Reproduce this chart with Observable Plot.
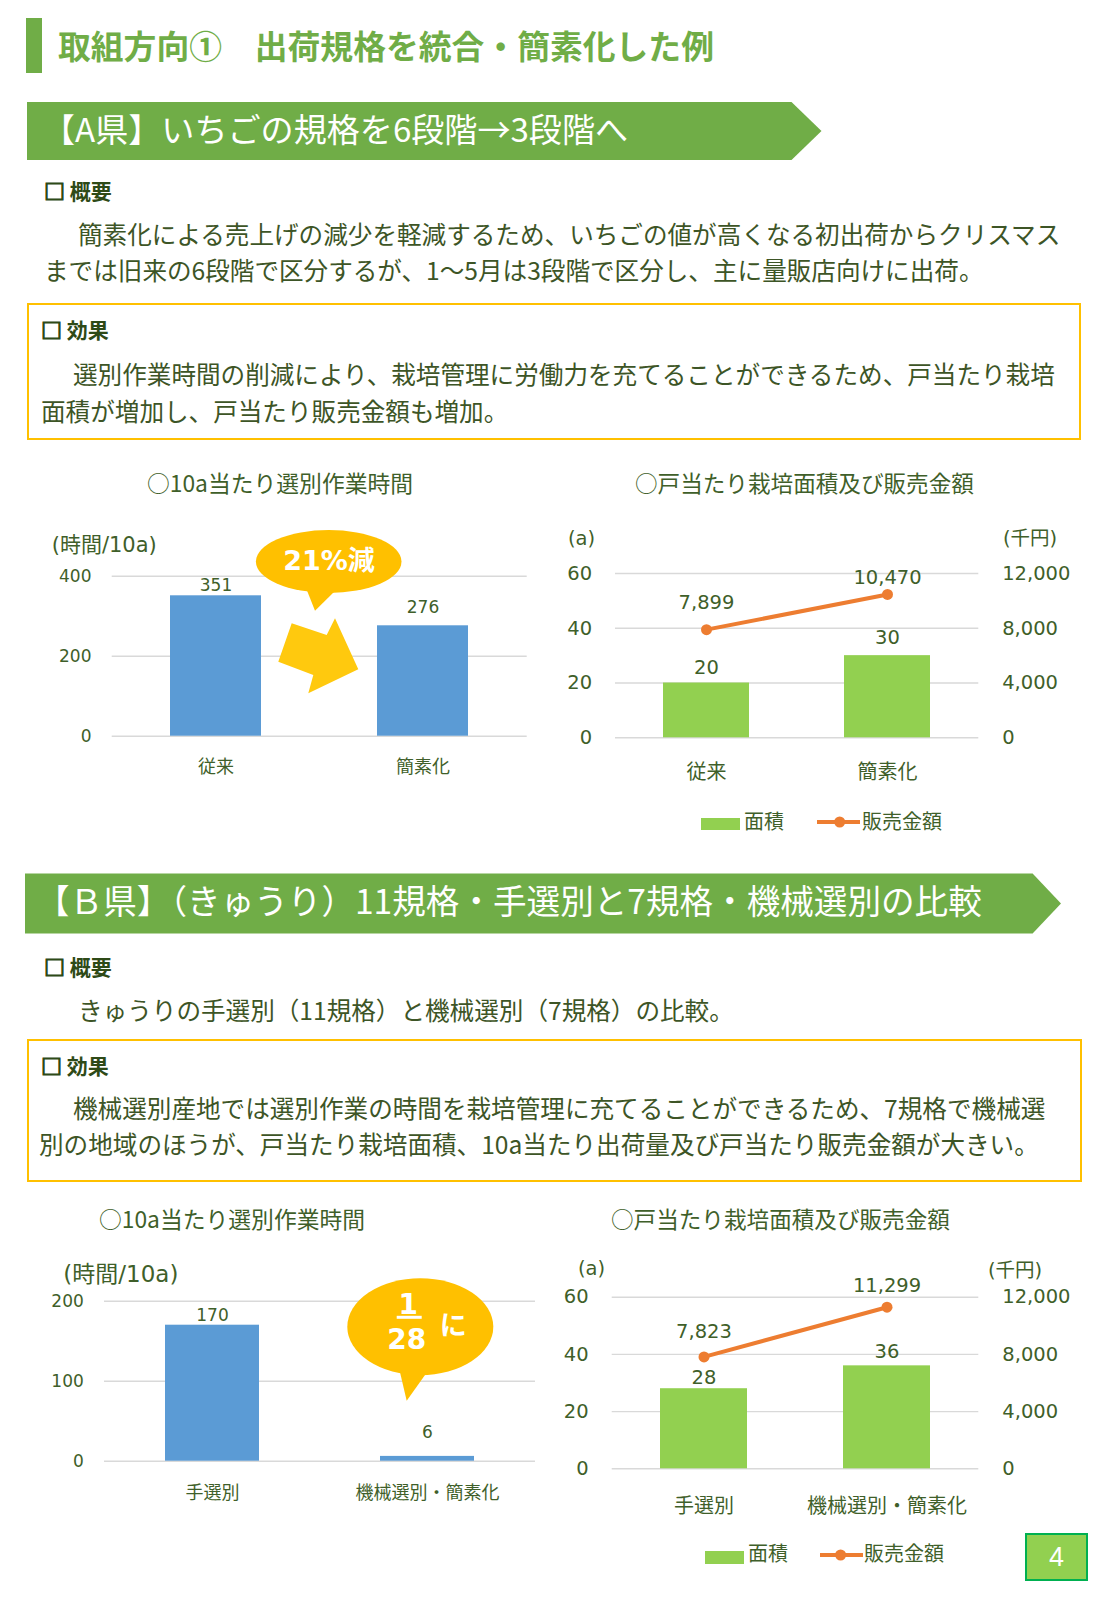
<!DOCTYPE html>
<html lang="ja">
<head>
<meta charset="utf-8">
<script src="https://cdn.jsdelivr.net/npm/d3@7"></script>
<script src="https://cdn.jsdelivr.net/npm/@observablehq/plot@0.6"></script>
<style>
  html, body { margin: 0; padding: 0; background: #fff; }
  #page { position: relative; width: 1107px; height: 1600px; overflow: hidden; background: #fff;
          font-family: "Noto Sans CJK JP", "Noto Sans", sans-serif; }
  .abs { position: absolute; white-space: nowrap; line-height: 1; }
  .body { font-size: 24.6px; color: #3d5526; }
  .head { font-size: 21px; font-weight: bold; color: #2e4a17; }
  .head .box { -webkit-text-stroke: 1.2px #2e4a17; }
  .ctitle { font-size: 22.8px; color: #3f5f2a; }
  .unit { font-family: "DejaVu Sans", "Noto Sans CJK JP", sans-serif; color: #3f5f2a; }
  .legend { font-size: 20px; color: #3f5f2a; }
  .banner { position: absolute; background: #70ad47; }
  .panel { position: absolute; box-sizing: border-box; border: 2px solid #ffc000; }
</style>
</head>
<body>
<div id="page">
  <!-- page heading -->
  <div class="abs" style="left:25.5px;top:18.4px;width:16.3px;height:55px;background:#70ad47;"></div>
  <div class="abs" style="left:58px;top:28.8px;font-size:32.8px;font-weight:bold;color:#70ad47;">取組方向①　出荷規格を統合・簡素化した例</div>

  <!-- section A -->
  <div class="banner" style="left:26.5px;top:102px;width:795px;height:58px;clip-path:polygon(0 0, calc(100% - 30px) 0, 100% 50%, calc(100% - 30px) 100%, 0 100%);"></div>
  <div class="abs" style="left:42px;top:111.6px;font-size:33.1px;color:#fff;">【A県】いちごの規格を6段階→3段階へ</div>

  <div class="abs head" style="left:44px;top:180px;"><span class="box">□</span> 概要</div>
  <div class="abs body" style="left:78px;top:221px;">簡素化による売上げの減少を軽減するため、いちごの値が高くなる初出荷からクリスマス</div>
  <div class="abs body" style="left:44px;top:256.7px;">までは旧来の6段階で区分するが、1～5月は3段階で区分し、主に量販店向けに出荷。</div>

  <div class="panel" style="left:26.5px;top:303px;width:1054px;height:137px;"></div>
  <div class="abs head" style="left:41px;top:319px;"><span class="box">□</span> 効果</div>
  <div class="abs body" style="left:73px;top:360.7px;">選別作業時間の削減により、栽培管理に労働力を充てることができるため、戸当たり栽培</div>
  <div class="abs body" style="left:41px;top:397.5px;">面積が増加し、戸当たり販売金額も増加。</div>

  <div class="abs ctitle" style="left:147px;top:472px;">○10a当たり選別作業時間</div>
  <div class="abs ctitle" style="left:635px;top:472px;font-size:22.6px;">○戸当たり栽培面積及び販売金額</div>
  <div class="abs unit" style="left:51.7px;top:535px;font-size:21px;">(時間/10a)</div>
  <div class="abs unit" style="left:568px;top:529px;font-size:19.5px;">(a)</div>
  <div class="abs unit" style="left:1003px;top:529px;font-size:19.5px;">(千円)</div>

  <!-- legend of the area / sales chart, section A -->
  <div class="abs" style="left:700.7px;top:817.7px;width:39.3px;height:12.3px;background:#92d050;"></div>
  <div class="abs legend" style="left:744px;top:810.6px;">面積</div>
  <svg class="abs" style="left:817.3px;top:814px;" width="43" height="16"><line x1="0" y1="8" x2="43" y2="8" stroke="#ed7d31" stroke-width="4"/><circle cx="22.7" cy="8" r="5.5" fill="#ed7d31"/></svg>
  <div class="abs legend" style="left:862px;top:810.6px;">販売金額</div>

  <!-- section B -->
  <div class="banner" style="left:24.5px;top:873.4px;width:1036.5px;height:60.2px;clip-path:polygon(0 0, calc(100% - 28.4px) 0, 100% 50%, calc(100% - 28.4px) 100%, 0 100%);"></div>
  <div class="abs" style="left:36px;top:882.5px;font-size:33.6px;color:#fff;">【Ｂ県】（きゅうり）11規格・手選別と7規格・機械選別の比較</div>

  <div class="abs head" style="left:44px;top:955.5px;"><span class="box">□</span> 概要</div>
  <div class="abs body" style="left:78px;top:997.3px;">きゅうりの手選別（11規格）と機械選別（7規格）の比較。</div>

  <div class="panel" style="left:26.5px;top:1038.7px;width:1055px;height:143px;"></div>
  <div class="abs head" style="left:41px;top:1054.5px;"><span class="box">□</span> 効果</div>
  <div class="abs body" style="left:73px;top:1095.3px;">機械選別産地では選別作業の時間を栽培管理に充てることができるため、7規格で機械選</div>
  <div class="abs body" style="left:39px;top:1131.1px;">別の地域のほうが、戸当たり栽培面積、10a当たり出荷量及び戸当たり販売金額が大きい。</div>

  <div class="abs ctitle" style="left:99px;top:1208.4px;">○10a当たり選別作業時間</div>
  <div class="abs ctitle" style="left:611px;top:1208.4px;font-size:22.6px;">○戸当たり栽培面積及び販売金額</div>
  <div class="abs unit" style="left:63.3px;top:1262.5px;font-size:23px;">(時間/10a)</div>
  <div class="abs unit" style="left:578px;top:1259px;font-size:19.5px;">(a)</div>
  <div class="abs unit" style="left:988px;top:1261px;font-size:19.5px;">(千円)</div>

  <!-- legend of the area / sales chart, section B -->
  <div class="abs" style="left:704.6px;top:1550.6px;width:39.6px;height:13.1px;background:#92d050;"></div>
  <div class="abs legend" style="left:748px;top:1542.9px;">面積</div>
  <svg class="abs" style="left:820px;top:1546.5px;" width="43" height="16"><line x1="0" y1="8" x2="43" y2="8" stroke="#ed7d31" stroke-width="4"/><circle cx="20.6" cy="8" r="5.5" fill="#ed7d31"/></svg>
  <div class="abs legend" style="left:864px;top:1542.9px;">販売金額</div>

  <!-- page number -->
  <div class="abs" style="left:1025px;top:1533px;width:63px;height:48px;box-sizing:border-box;background:#92d050;border:2px solid #00b050;color:#fff;font-size:27px;display:flex;align-items:center;justify-content:center;font-family:'Liberation Sans','DejaVu Sans',sans-serif;">4</div>
</div>

<script>
// ---- data ----
const A_CATEGORIES = ["従来", "簡素化"];
const A_HOURS = [351, 276];            // 選別作業時間 (時間/10a)
const A_AREA = [20, 30];               // 戸当たり栽培面積 (a)
const A_SALES = [7899, 10470];         // 戸当たり販売金額 (千円)

const B_CATEGORIES = ["手選別", "機械選別・簡素化"];
const B_HOURS = [170, 6];
const B_AREA = [28, 36];
const B_SALES = [7823, 11299];

const A_HOUR_TICKS = [0, 200, 400];
const B_HOUR_TICKS = [0, 100, 200];
const AREA_TICKS = [0, 20, 40, 60];
const SALES_TICKS = [0, 4000, 8000, 12000];

// ---- styling ----
const TEXT = "#3f5f2a";
const GRID = "#d9d9d9";
const BLUE = "#5b9bd5";
const GREEN = "#92d050";
const ORANGE = "#ed7d31";
const FONT = "'DejaVu Sans', 'Noto Sans CJK JP', sans-serif";
const fmt = d3.format(",");
const page = document.getElementById("page");

function mount(svg, left, top) {
  svg.style.position = "absolute";
  svg.style.left = left + "px";
  svg.style.top = top + "px";
  page.appendChild(svg);
}

// Single-axis column chart of sorting hours
function hoursChart({cats, hours, ticks, left, top, width, height, margin, padInner, labelDy, catPadding}) {
  const rows = cats.map((c, i) => ({cat: c, hours: hours[i]}));
  const svg = Plot.plot({
    width, height,
    marginLeft: margin.left, marginRight: margin.right, marginTop: margin.top, marginBottom: margin.bottom,
    style: {fontFamily: FONT, fontSize: "17px", color: TEXT, background: "transparent", overflow: "visible"},
    x: {domain: cats, paddingInner: padInner, paddingOuter: padInner / 2, axis: null},
    y: {domain: [0, ticks[ticks.length - 1]], axis: null},
    marks: [
      Plot.ruleY(ticks, {stroke: GRID, strokeWidth: 1.4}),
      Plot.barY(rows, {x: "cat", y: "hours", fill: BLUE}),
      Plot.axisY({ticks, tickSize: 0, tickPadding: margin.tickPad, label: null, fontSize: 17}),
      Plot.axisX({tickSize: 0, tickPadding: catPadding, label: null, fontSize: 18, fontFamily: "'Noto Sans CJK JP', sans-serif"}),
      ...rows.map((r, i) => Plot.text([r], {x: "cat", y: "hours", text: d => fmt(d.hours), dy: labelDy[i], fontSize: 17, fill: TEXT}))
    ]
  });
  mount(svg, left, top);
}

// Column (area) + line (sales) chart on a shared frame, sales read on the right axis
function areaSalesChart({cats, area, sales, left, top, width, height, margin, padInner, barDy, lineDy, catPadding}) {
  const ratio = SALES_TICKS[SALES_TICKS.length - 1] / AREA_TICKS[AREA_TICKS.length - 1];
  const rows = cats.map((c, i) => ({cat: c, area: area[i], sales: sales[i]}));
  const svg = Plot.plot({
    width, height,
    marginLeft: margin.left, marginRight: margin.right, marginTop: margin.top, marginBottom: margin.bottom,
    style: {fontFamily: FONT, fontSize: "19.5px", color: TEXT, background: "transparent", overflow: "visible"},
    x: {domain: cats, paddingInner: padInner, paddingOuter: padInner / 2, axis: null},
    y: {domain: [0, AREA_TICKS[AREA_TICKS.length - 1]], axis: null},
    marks: [
      Plot.ruleY(AREA_TICKS, {stroke: GRID, strokeWidth: 1.4}),
      Plot.barY(rows, {x: "cat", y: "area", fill: GREEN}),
      Plot.line(rows, {x: "cat", y: d => d.sales / ratio, stroke: ORANGE, strokeWidth: 4}),
      Plot.dot(rows, {x: "cat", y: d => d.sales / ratio, r: 5.5, fill: ORANGE}),
      Plot.axisY({ticks: AREA_TICKS, tickSize: 0, tickPadding: margin.tickPad, label: null, fontSize: 19.5}),
      Plot.axisY({anchor: "right", ticks: SALES_TICKS.map(v => v / ratio), tickFormat: v => fmt(Math.round(v * ratio)),
                  tickSize: 0, tickPadding: margin.tickPad, label: null, fontSize: 19.5}),
      Plot.axisX({tickSize: 0, tickPadding: catPadding, label: null, fontSize: 20, fontFamily: "'Noto Sans CJK JP', sans-serif"}),
      ...rows.map((r, i) => Plot.text([r], {x: "cat", y: "area", text: d => fmt(d.area), dy: barDy[i], fontSize: 19.5, fill: TEXT})),
      ...rows.map((r, i) => Plot.text([r], {x: "cat", y: d => d.sales / ratio, text: d => fmt(d.sales), dy: lineDy[i], fontSize: 19.5, fill: TEXT}))
    ]
  });
  mount(svg, left, top);
}

hoursChart({cats: A_CATEGORIES, hours: A_HOURS, ticks: A_HOUR_TICKS,
  left: 0, top: 558.5, width: 545, height: 230,
  margin: {left: 111.7, right: 18.3, top: 16.7, bottom: 53.3, tickPad: 20.7},
  padInner: 0.561, labelDy: [-10, -18], catPadding: 24});

areaSalesChart({cats: A_CATEGORIES, area: A_AREA, sales: A_SALES,
  left: 550, top: 558.5, width: 557, height: 240,
  margin: {left: 65, right: 128.7, top: 14, bottom: 61.7, tickPad: 23.4},
  padInner: 0.523, barDy: [-15, -18], lineDy: [-27, -17], catPadding: 26.8});

hoursChart({cats: B_CATEGORIES, hours: B_HOURS, ticks: B_HOUR_TICKS,
  left: 0, top: 1284, width: 545, height: 235,
  margin: {left: 104, right: 10, top: 16.7, bottom: 58.3, tickPad: 20.7},
  padInner: 0.563, labelDy: [-10, -24], catPadding: 24.6});

areaSalesChart({cats: B_CATEGORIES, area: B_AREA, sales: B_SALES,
  left: 550, top: 1279, width: 557, height: 240,
  margin: {left: 61.7, right: 128.7, top: 17.7, bottom: 50.7, tickPad: 23.5},
  padInner: 0.527, barDy: [-11, -14], lineDy: [-25, -21], catPadding: 29.9});

// ---- callouts drawn over the hours charts ----
const NS = "http://www.w3.org/2000/svg";
const over = document.createElementNS(NS, "svg");
over.setAttribute("width", 1107);
over.setAttribute("height", 1600);
over.style.position = "absolute";
over.style.left = "0px";
over.style.top = "0px";
over.style.pointerEvents = "none";
over.innerHTML = `
  <g fill="#ffc000">
    <ellipse cx="328.7" cy="561.5" rx="72.8" ry="31.5"/>
    <polygon points="306,588 315,610.7 336,590"/>
  </g>
  <polygon fill="#ffc90e" points="291.7,623.3 326.7,635 335,618.3 358.3,669.3 308.3,693.3 313.3,675 278.3,661.7"/>
  <text x="329" y="569.5" fill="#fff" font-weight="bold" font-size="27" text-anchor="middle"
        font-family="'DejaVu Sans','Noto Sans CJK JP',sans-serif">21%減</text>
  <g fill="#ffc000">
    <ellipse cx="420.3" cy="1326.7" rx="73" ry="48.5"/>
    <polygon points="399,1368 406.7,1400.7 430,1368"/>
  </g>
  <g fill="#fff" font-weight="bold" font-family="'DejaVu Sans','Noto Sans CJK JP',sans-serif" text-anchor="middle">
    <text x="408.3" y="1313.5" font-size="28">1</text>
    <rect x="396.7" y="1315.8" width="25" height="3"/>
    <text x="406.7" y="1348.5" font-size="28">28</text>
    <text x="453.3" y="1335.3" font-size="27" font-family="'Noto Sans CJK JP',sans-serif">に</text>
  </g>`;
page.appendChild(over);
</script>
</body>
</html>
